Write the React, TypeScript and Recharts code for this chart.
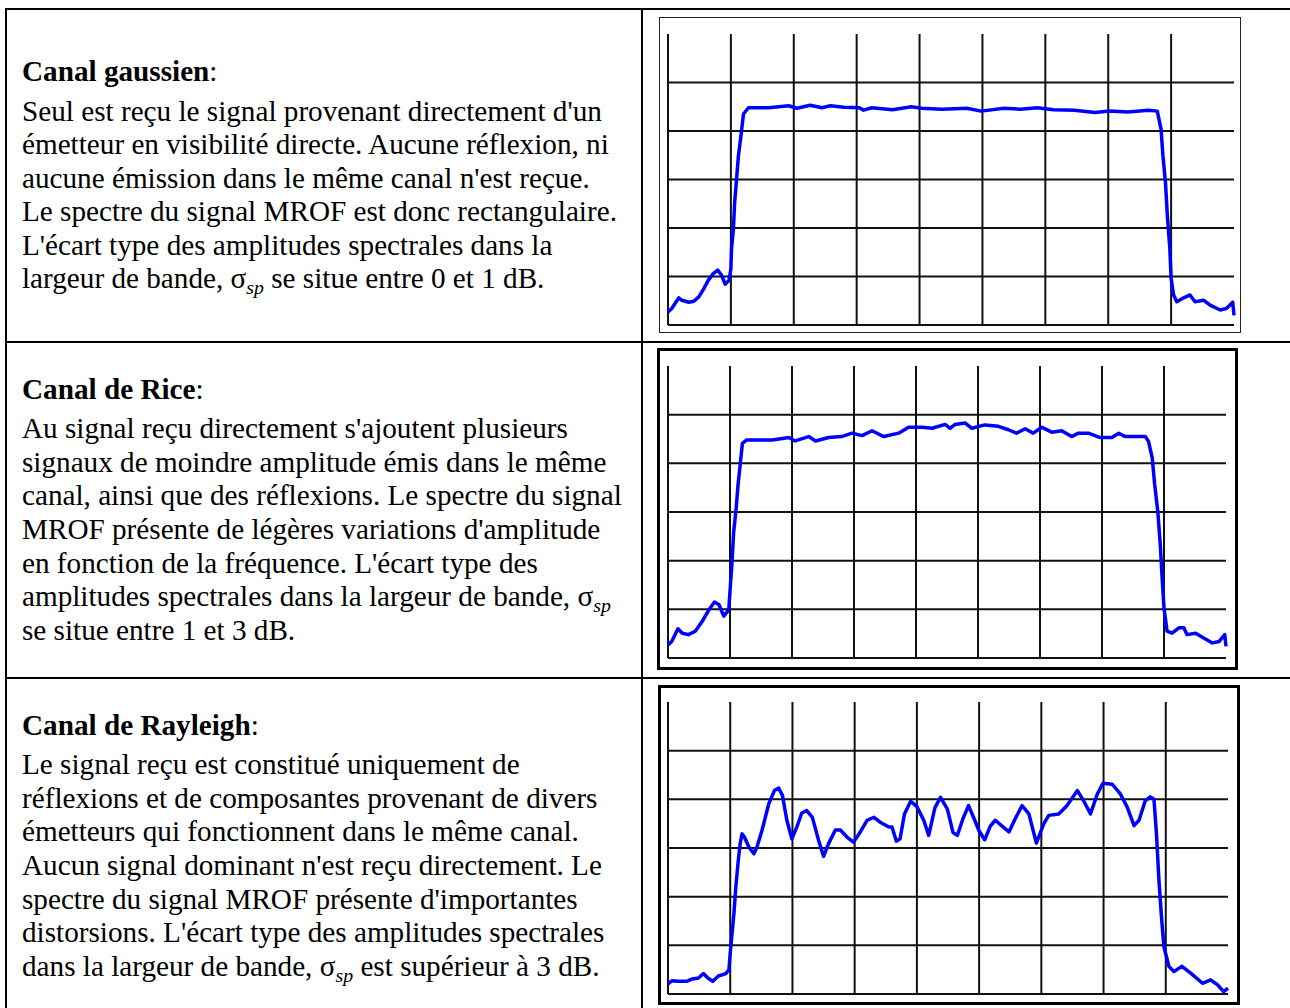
import React from 'react';
import { LineChart, Line, XAxis, YAxis, ReferenceLine } from 'recharts';

// spectrum traces: [frequency division, level division]
const gaussSpectrum: [number, number][] = [
  [0, 0.27], [0.06, 0.34], [0.17, 0.56], [0.22, 0.51], [0.33, 0.47], [0.41, 0.49], [0.49, 0.58],
  [0.57, 0.75], [0.64, 0.92], [0.72, 1.06], [0.79, 1.13], [0.85, 1.03], [0.91, 0.84], [0.97, 0.92],
  [1.0, 1.16], [1.01, 1.57], [1.04, 1.98], [1.06, 2.53], [1.09, 3.01], [1.12, 3.49], [1.16, 3.9],
  [1.2, 4.35], [1.28, 4.48], [1.6, 4.48], [1.92, 4.52], [2.05, 4.47], [2.26, 4.53], [2.45, 4.48],
  [2.58, 4.52], [2.8, 4.49], [3.04, 4.48], [3.11, 4.43], [3.24, 4.48], [3.57, 4.44], [3.87, 4.5],
  [4.03, 4.47], [4.36, 4.45], [4.75, 4.47], [4.98, 4.41], [5.34, 4.47], [5.6, 4.45], [5.87, 4.48],
  [6.13, 4.44], [6.46, 4.43], [6.79, 4.38], [7.02, 4.41], [7.31, 4.39], [7.64, 4.43], [7.78, 4.41],
  [7.84, 4.04], [7.87, 3.49], [7.91, 2.94], [7.94, 2.26], [7.98, 1.57], [8.0, 0.96], [8.04, 0.62],
  [8.09, 0.48], [8.2, 0.56], [8.3, 0.62], [8.38, 0.48], [8.52, 0.51], [8.62, 0.41], [8.78, 0.31],
  [8.88, 0.34], [8.98, 0.47], [9.0, 0.2],
];

const riceSpectrum: [number, number][] = [
  [0, 0.27], [0.06, 0.34], [0.16, 0.6], [0.23, 0.51], [0.33, 0.48], [0.44, 0.55], [0.55, 0.75],
  [0.66, 0.99], [0.75, 1.15], [0.82, 1.1], [0.9, 0.86], [0.98, 0.99], [1.0, 1.37], [1.03, 1.92],
  [1.06, 2.6], [1.1, 3.08], [1.13, 3.56], [1.17, 4.04], [1.2, 4.41], [1.27, 4.48], [1.68, 4.48],
  [1.95, 4.53], [2.05, 4.46], [2.27, 4.55], [2.38, 4.46], [2.59, 4.53], [2.8, 4.55], [2.97, 4.62],
  [3.13, 4.57], [3.29, 4.67], [3.48, 4.55], [3.72, 4.62], [3.88, 4.74], [4.1, 4.74], [4.26, 4.72],
  [4.47, 4.8], [4.55, 4.72], [4.63, 4.8], [4.79, 4.83], [4.9, 4.72], [5.11, 4.79], [5.33, 4.76],
  [5.49, 4.69], [5.62, 4.62], [5.76, 4.71], [5.89, 4.62], [6.03, 4.74], [6.19, 4.64], [6.35, 4.67],
  [6.51, 4.55], [6.62, 4.62], [6.78, 4.62], [6.97, 4.53], [7.16, 4.53], [7.27, 4.62], [7.37, 4.55],
  [7.7, 4.55], [7.75, 4.45], [7.81, 4.11], [7.85, 3.56], [7.9, 3.01], [7.94, 2.33], [7.97, 1.64],
  [8.0, 1.03], [8.05, 0.55], [8.13, 0.51], [8.24, 0.62], [8.32, 0.62], [8.37, 0.48], [8.51, 0.51],
  [8.64, 0.41], [8.78, 0.31], [8.89, 0.34], [8.98, 0.48], [9.0, 0.24],
];

const rayleighSpectrum: [number, number][] = [
  [0, 0.21], [0.06, 0.27], [0.17, 0.26], [0.3, 0.26], [0.39, 0.31], [0.49, 0.33], [0.57, 0.42],
  [0.64, 0.33], [0.72, 0.26], [0.81, 0.37], [0.93, 0.42], [0.98, 0.5], [1.0, 0.84], [1.03, 1.25],
  [1.06, 1.66], [1.09, 2.2], [1.13, 2.75], [1.16, 3.09], [1.19, 3.29], [1.23, 3.22], [1.3, 3.02],
  [1.38, 2.88], [1.43, 3.02], [1.51, 3.36], [1.62, 3.91], [1.71, 4.18], [1.78, 4.23], [1.84, 4.08],
  [1.91, 3.57], [1.99, 3.19], [2.07, 3.43], [2.15, 3.72], [2.23, 3.77], [2.32, 3.63], [2.42, 3.16],
  [2.5, 2.83], [2.58, 3.09], [2.69, 3.37], [2.77, 3.37], [2.88, 3.22], [2.98, 3.12], [3.09, 3.33],
  [3.2, 3.57], [3.31, 3.63], [3.41, 3.53], [3.55, 3.43], [3.6, 3.43], [3.67, 3.14], [3.73, 3.19],
  [3.8, 3.7], [3.9, 3.96], [4.0, 3.85], [4.11, 3.57], [4.19, 3.26], [4.29, 3.83], [4.38, 4.04],
  [4.49, 3.8], [4.58, 3.32], [4.65, 3.26], [4.74, 3.6], [4.83, 3.87], [4.92, 3.6], [5.0, 3.35],
  [5.09, 3.17], [5.18, 3.45], [5.26, 3.57], [5.37, 3.45], [5.48, 3.33], [5.58, 3.6], [5.69, 3.87],
  [5.8, 3.7], [5.92, 3.1], [6.04, 3.5], [6.12, 3.67], [6.28, 3.7], [6.41, 3.87], [6.58, 4.18],
  [6.68, 3.97], [6.79, 3.7], [6.9, 4.11], [6.99, 4.33], [7.14, 4.31], [7.27, 4.11], [7.38, 3.84],
  [7.49, 3.46], [7.57, 3.57], [7.67, 3.97], [7.75, 4.05], [7.81, 4.0], [7.85, 3.3], [7.89, 2.34],
  [7.93, 1.6], [7.97, 0.97], [8.05, 0.57], [8.13, 0.46], [8.26, 0.57], [8.4, 0.43], [8.59, 0.22],
  [8.72, 0.29], [8.83, 0.19], [8.93, 0.05], [9.0, 0.12],
];

const freqTicks = [0, 1, 2, 3, 4, 5, 6, 7, 8];
const levelTicks = [0, 1, 2, 3, 4, 5];

const serif = '"Liberation Serif", "Times New Roman", serif';

type Margin = { top: number; right: number; bottom: number; left: number };

const Spectrum = ({ points, width, height, margin }: {
  points: [number, number][]; width: number; height: number; margin: Margin;
}) => {
  const data = points.map(([f, level]) => ({ f, level }));
  return (
    <LineChart width={width} height={height} data={data} margin={margin}>
      <XAxis type="number" dataKey="f" domain={[0, 9]} hide />
      <YAxis type="number" domain={[0, 6]} hide />
      {freqTicks.map((t) => (
        <ReferenceLine key={'v' + t} x={t} stroke="#111" strokeWidth={2} />
      ))}
      {levelTicks.map((t) => (
        <ReferenceLine key={'h' + t} y={t} stroke="#111" strokeWidth={2} />
      ))}
      <Line type="linear" dataKey="level" stroke="#0000ff" strokeWidth={3.5} dot={false}
        strokeLinejoin="round" isAnimationActive={false} />
    </LineChart>
  );
};

const Sigma = () => (
  <>σ<span style={{ fontStyle: 'italic', fontSize: '0.68em', position: 'relative', top: '0.3em', lineHeight: 0 }}>sp</span></>
);

const TextCell = ({ top, height, title, lines }: {
  top: number; height: number; title: string; lines: React.ReactNode[];
}) => (
  <div style={{
    position: 'absolute', left: 7, top, width: 634, height, paddingLeft: 15,
    boxSizing: 'border-box', display: 'flex', flexDirection: 'column', justifyContent: 'center',
    fontFamily: serif, fontSize: 29.2, lineHeight: '33.6px', color: '#000', whiteSpace: 'nowrap',
  }}>
    <div style={{ marginBottom: 6 }}><b>{title}</b>:</div>
    {lines.map((l, i) => <div key={i}>{l}</div>)}
  </div>
);

const hLine = (top: number) => (
  <div style={{ position: 'absolute', left: 5, top, width: 1300, height: 2, background: '#000' }} />
);

export default function App() {
  return (
    <div style={{ position: 'absolute', left: 0, top: 0, width: 1290, height: 1008, overflow: 'hidden', background: '#fff' }}>
      {hLine(8)}
      {hLine(341)}
      {hLine(677)}
      <div style={{ position: 'absolute', left: 5, top: 8, width: 2, height: 1010, background: '#000' }} />
      <div style={{ position: 'absolute', left: 641, top: 8, width: 2, height: 1010, background: '#000' }} />

      <TextCell top={10} height={331} title="Canal gaussien" lines={[
        "Seul est reçu le signal provenant directement d'un",
        'émetteur en visibilité directe. Aucune réflexion, ni',
        "aucune émission dans le même canal n'est reçue.",
        'Le spectre du signal MROF est donc rectangulaire.',
        "L'écart type des amplitudes spectrales dans la",
        <>largeur de bande, <Sigma /> se situe entre 0 et 1 dB.</>,
      ]} />
      <TextCell top={343} height={334} title="Canal de Rice" lines={[
        "Au signal reçu directement s'ajoutent plusieurs",
        'signaux de moindre amplitude émis dans le même',
        'canal, ainsi que des réflexions. Le spectre du signal',
        "MROF présente de légères variations d'amplitude",
        "en fonction de la fréquence. L'écart type des",
        <>amplitudes spectrales dans la largeur de bande, <Sigma /></>,
        'se situe entre 1 et 3 dB.',
      ]} />
      <TextCell top={679} height={334} title="Canal de Rayleigh" lines={[
        'Le signal reçu est constitué uniquement de',
        'réflexions et de composantes provenant de divers',
        'émetteurs qui fonctionnent dans le même canal.',
        "Aucun signal dominant n'est reçu directement. Le",
        "spectre du signal MROF présente d'importantes",
        "distorsions. L'écart type des amplitudes spectrales",
        <>dans la largeur de bande, <Sigma /> est supérieur à 3 dB.</>,
      ]} />

      <div style={{ position: 'absolute', left: 659, top: 17, width: 582, height: 316, border: '1px solid #222', boxSizing: 'border-box' }}>
        <Spectrum points={gaussSpectrum} width={580} height={314}
          margin={{ top: 16, right: 6, bottom: 7, left: 8 }} />
      </div>
      <div style={{ position: 'absolute', left: 657, top: 348, width: 581, height: 322, border: '3px solid #000', boxSizing: 'border-box' }}>
        <Spectrum points={riceSpectrum} width={575} height={316}
          margin={{ top: 15, right: 9, bottom: 9, left: 8 }} />
      </div>
      <div style={{ position: 'absolute', left: 658, top: 685, width: 582, height: 320, border: '3px solid #000', boxSizing: 'border-box' }}>
        <Spectrum points={rayleighSpectrum} width={576} height={314}
          margin={{ top: 14, right: 9, bottom: 8, left: 7 }} />
      </div>
    </div>
  );
}
